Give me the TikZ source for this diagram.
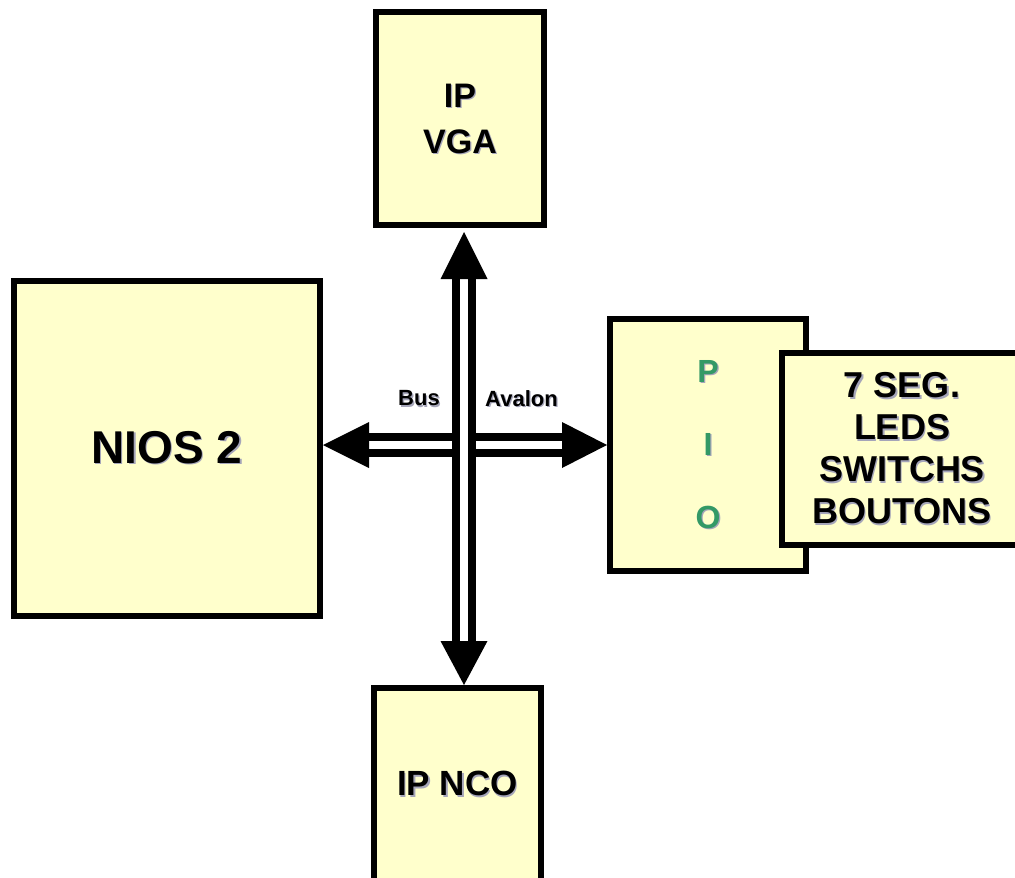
\documentclass[tikz,border=0pt]{standalone}
\usepackage{fontspec}
\setmainfont{Liberation Sans}
\usetikzlibrary{calc}
\definecolor{boxfill}{RGB}{255,255,204}
\definecolor{piogreen}{RGB}{51,153,102}
\definecolor{shadowgrey}{RGB}{165,165,185}
% text with a small grey drop shadow
\newcommand\shad[1]{\makebox[0pt][l]{\kern1.3pt\raisebox{-1.3pt}{\color{shadowgrey}#1}}#1}
\tikzset{
  block/.style={
    draw,
    line width = 6pt,
    fill = boxfill,
    inner sep = 0pt,
    align = center,
    font = \bfseries
  },
  bus/.style={
    double,
    line width = 8pt,
    double distance = 8pt
  },
  head/.style={
    fill = black
  },
  buslabel/.style={
    font = \bfseries\fontsize{22}{24}\selectfont,
    inner sep = 0pt
  }
}

\begin{document}
\begin{tikzpicture}[x=1pt,y=-1pt]
        \useasboundingbox (0,0) rectangle (1015,878);
        \clip (0,0) rectangle (1015,878);

        \node[block, minimum width=168pt, minimum height=213pt, text depth=-6pt,
              font=\bfseries\fontsize{34}{46}\selectfont] (vga) at (460,118.5) {\shad{IP}\\\shad{VGA}};
        \node[block, minimum width=306pt, minimum height=335pt,
              font=\bfseries\fontsize{46}{50}\selectfont] (nios) at (167,448.5) {\shad{NIOS 2}};
        \node[block, minimum width=196pt, minimum height=252pt,
              font=\bfseries\fontsize{32}{73}\selectfont, text=piogreen] (pio) at (708,445) {\shad{P}\\\shad{I}\\\shad{O}};
        \node[block, minimum width=240pt, minimum height=192pt,
              font=\bfseries\fontsize{36}{42}\selectfont] (seg) at (902,449) {\shad{7 SEG.}\\\shad{LEDS}\\\shad{SWITCHS}\\\shad{BOUTONS}};
        \node[block, minimum width=167pt, minimum height=193pt,
              font=\bfseries\fontsize{35}{40}\selectfont] (nco) at (457.5,784.5) {\shad{IP NCO}};

        % bus crossing
        \coordinate (hub) at (464,445);
        \coordinate (tipN) at ($(hub |- vga.south)+(0,4)$);
        \coordinate (tipS) at (hub |- nco.north);
        \coordinate (tipW) at (hub -| nios.east);
        \coordinate (tipE) at (hub -| pio.west);

        \draw[bus] ($(tipW)+(44,0)$) -- ($(tipE)+(-43,0)$);
        \draw[bus] ($(tipN)+(0,45)$) -- ($(tipS)+(0,-42)$);

        \fill[head] (tipN) -- ++(23.5,47) -- ++(-47,0) -- cycle;
        \fill[head] (tipS) -- ++(23.5,-44) -- ++(-47,0) -- cycle;
        \fill[head] (tipW) -- ++(46,-23) -- ++(0,46) -- cycle;
        \fill[head] (tipE) -- ++(-45,-23) -- ++(0,46) -- cycle;

        \node[buslabel] (lblbus) at (419,399) {\shad{Bus}};
        \node[buslabel] (lblavalon) at (521.5,399) {\shad{Avalon}};
\end{tikzpicture}
\end{document}
